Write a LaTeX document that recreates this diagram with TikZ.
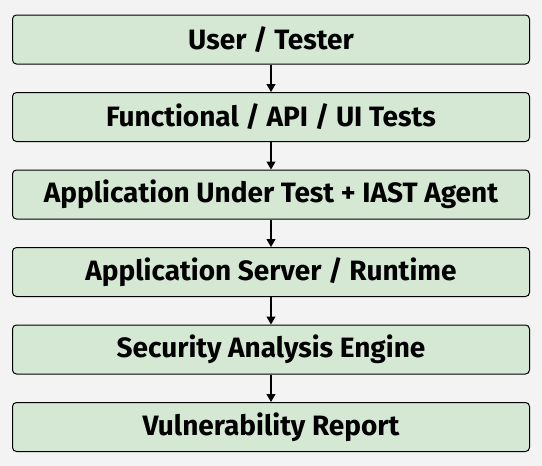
\documentclass[tikz,border=0pt]{standalone}
\usepackage{fontspec}
\setmainfont{Fira Sans}
\usetikzlibrary{arrows.meta, positioning}
\definecolor{stagegreen}{HTML}{D5E8D4}
\definecolor{paper}{HTML}{F3F3F3}

\begin{document}
\begin{tikzpicture}[
    x=1pt, y=1pt,
    node distance=27.5pt,
    stage/.style={rectangle, rounded corners=4pt, draw=black, line width=1pt, fill=stagegreen, minimum width=517pt, minimum height=49pt, align=center, font=\fontsize{28}{32}\selectfont\bfseries},
    arrow/.style={-{Triangle[length=8pt, width=9pt]}, line width=1.2pt}
]
    \fill[paper] (0,0) rectangle (542,-466);
    \useasboundingbox (0,0) rectangle (542,-466);
    \node[stage, anchor=north] (user) at (271,-14.5) {User / Tester};
    \node[stage, below=of user] (tests) {Functional / API / UI Tests};
    \node[stage, below=of tests] (app) {Application Under Test + IAST Agent};
    \node[stage, below=of app] (server) {Application Server / Runtime};
    \node[stage, below=of server] (engine) {Security Analysis Engine};
    \node[stage, below=of engine] (report) {Vulnerability Report};

    \draw[arrow] (user) -- (tests);
    \draw[arrow] (tests) -- (app);
    \draw[arrow] (app) -- (server);
    \draw[arrow] (server) -- (engine);
    \draw[arrow] (engine) -- (report);
\end{tikzpicture}
\end{document}
